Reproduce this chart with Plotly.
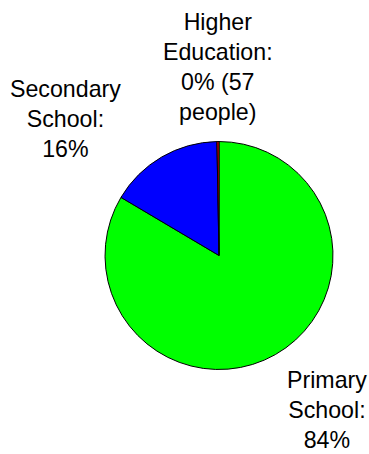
import plotly.graph_objects as go

# Data
categories = ["Primary School", "Secondary School", "Higher Education"]
label_text = ["Primary<br>School:", "Secondary<br>School:", "Higher<br>Education:"]
counts = [16453, 3190, 57]
colors = ["#00FF00", "#0000FF", "#FF0000"]

total = sum(counts)
pcts = [round(100 * c / total) for c in counts]
value_text = [f"{pcts[0]}%", f"{pcts[1]}%", f"{pcts[2]}% (57<br>people)"]

W, H = 369, 454

fig = go.Figure(
    go.Pie(
        labels=categories,
        values=counts,
        sort=False,
        direction="clockwise",
        rotation=0,
        marker=dict(colors=colors, line=dict(color="black", width=1)),
        textinfo="none",
        hoverinfo="label+percent",
        domain=dict(x=[0.2846, 0.9024], y=[0.1861, 0.6883]),
        showlegend=False,
    )
)

# label positions (paper coords)
label_pos = [(0.8862, 0.0969), (0.1775, 0.7368), (0.5908, 0.8524)]
for lt, vt, (x, y) in zip(label_text, value_text, label_pos):
    fig.add_annotation(
        text=f"{lt}<br>{vt}",
        x=x, y=y, xref="paper", yref="paper",
        xanchor="center", yanchor="middle",
        showarrow=False,
        font=dict(family="Liberation Sans, Arial", size=23.2, color="black"),
    )

fig.update_layout(
    width=W, height=H,
    margin=dict(l=0, r=0, t=0, b=0),
    paper_bgcolor="white",
    plot_bgcolor="white",
)

fig.write_html(
    "out.html",
    config={"displayModeBar": False},
    post_script="document.body.style.margin='0';document.body.style.overflow='hidden';",
)
